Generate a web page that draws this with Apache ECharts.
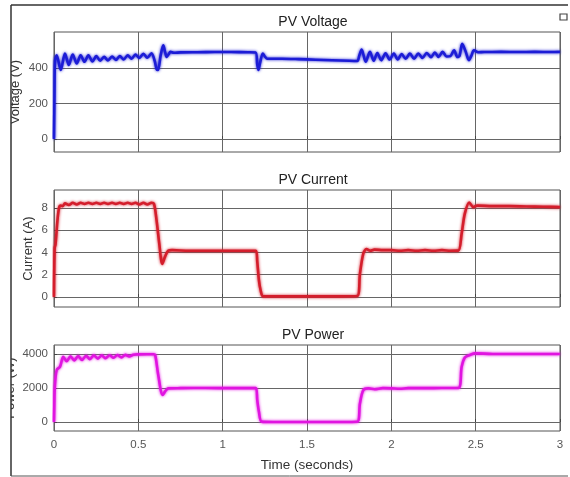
<!DOCTYPE html>
<html>
<head>
<meta charset="utf-8">
<script src="https://cdn.jsdelivr.net/npm/echarts@6/dist/echarts.min.js"></script>
<style>
  html, body { margin: 0; padding: 0; background: #fff; }
  #chart { width: 570px; height: 477px; }
</style>
</head>
<body>
<div id="chart"></div>
<script>
// Panel titles and axis names
const titles = ['PV Voltage', 'PV Current', 'PV Power'];
const yNames = ['Voltage (V)', 'Current (A)', 'Power (W)'];
const xName = 'Time (seconds)';

// Tick values
const xTicks = [0, 0.5, 1, 1.5, 2, 2.5, 3];
const voltageTicks = [0, 200, 400];
const currentTicks = [0, 2, 4, 6, 8];
const powerTicks = [0, 2000, 4000];

// PV voltage trace (s, V)
const voltageTime = [0, 0.003, 0.006, 0.016, 0.04, 0.065, 0.088, 0.111, 0.135, 0.158, 0.181, 0.204, 0.228, 0.251, 0.274, 0.297, 0.32, 0.344, 0.367, 0.39, 0.413, 0.437, 0.46, 0.483, 0.506, 0.53, 0.553, 0.578, 0.597, 0.608, 0.617, 0.632, 0.648, 0.66, 0.668, 0.68, 0.69, 0.71, 0.75, 0.85, 0.95, 1.05, 1.15, 1.195, 1.205, 1.212, 1.222, 1.238, 1.25, 1.265, 1.35, 1.45, 1.55, 1.65, 1.75, 1.798, 1.81, 1.824, 1.848, 1.873, 1.896, 1.917, 1.94, 1.966, 1.99, 2.015, 2.038, 2.061, 2.085, 2.11, 2.135, 2.16, 2.185, 2.21, 2.235, 2.258, 2.28, 2.304, 2.328, 2.35, 2.372, 2.392, 2.405, 2.42, 2.44, 2.46, 2.475, 2.49, 2.515, 2.55, 2.65, 2.75, 2.85, 2.95, 3.0];
const voltageValue = [0, 250, 440, 472, 389, 482, 417, 476, 426, 472, 435, 472, 437, 467, 441, 463, 443, 465, 446, 468, 448, 472, 452, 476, 457, 480, 458, 483, 440, 395, 389, 470, 528, 485, 463, 478, 491, 486, 488, 489, 490, 490, 489, 488, 420, 389, 430, 482, 465, 452, 452, 450, 447, 444, 441, 440, 470, 504, 435, 491, 441, 485, 444, 483, 448, 482, 448, 479, 452, 482, 452, 482, 457, 485, 461, 487, 463, 491, 465, 467, 500, 462, 470, 537, 495, 444, 470, 500, 489, 490, 491, 490, 491, 490, 491];

// PV current trace (s, A)
const currentTime = [0, 0.004, 0.009, 0.02, 0.03, 0.04, 0.052, 0.065, 0.088, 0.111, 0.135, 0.158, 0.181, 0.204, 0.228, 0.251, 0.274, 0.297, 0.32, 0.344, 0.367, 0.39, 0.413, 0.437, 0.46, 0.483, 0.506, 0.53, 0.553, 0.578, 0.593, 0.608, 0.624, 0.642, 0.658, 0.678, 0.7, 0.8, 0.9, 1.0, 1.1, 1.197, 1.205, 1.215, 1.225, 1.24, 1.3, 1.5, 1.7, 1.798, 1.814, 1.834, 1.853, 1.875, 1.9, 1.95, 2.0, 2.05, 2.1, 2.15, 2.2, 2.25, 2.3, 2.35, 2.397, 2.417, 2.436, 2.462, 2.486, 2.509, 2.6, 2.7, 2.8, 2.9, 3.0];
const currentValue = [0, 4.4, 4.7, 6.8, 8.0, 8.2, 8.15, 8.4, 8.25, 8.45, 8.3, 8.45, 8.35, 8.45, 8.35, 8.45, 8.35, 8.45, 8.35, 8.45, 8.35, 8.45, 8.35, 8.45, 8.35, 8.45, 8.3, 8.45, 8.3, 8.45, 8.35, 6.9, 4.8, 2.97, 3.6, 4.16, 4.2, 4.15, 4.15, 4.15, 4.15, 4.15, 3.2, 1.5, 0.6, 0.05, 0.05, 0.05, 0.05, 0.08, 2.1, 3.9, 4.3, 4.15, 4.25, 4.2, 4.2, 4.15, 4.2, 4.15, 4.2, 4.15, 4.2, 4.15, 4.16, 5.7, 7.5, 8.48, 8.06, 8.2, 8.15, 8.15, 8.12, 8.1, 8.06];

// PV power trace (s, W)
const powerTime = [0, 0.002, 0.005, 0.016, 0.036, 0.055, 0.075, 0.098, 0.12, 0.143, 0.166, 0.19, 0.213, 0.236, 0.26, 0.283, 0.306, 0.33, 0.353, 0.376, 0.4, 0.423, 0.446, 0.47, 0.5, 0.55, 0.59, 0.6, 0.618, 0.644, 0.662, 0.678, 0.75, 0.9, 1.05, 1.197, 1.205, 1.215, 1.231, 1.3, 1.5, 1.7, 1.798, 1.814, 1.834, 1.864, 1.9, 1.95, 2.0, 2.05, 2.1, 2.2, 2.3, 2.397, 2.417, 2.436, 2.466, 2.496, 2.6, 2.8, 3.0];
const powerValue = [0, 1000, 2080, 3060, 3255, 3843, 3580, 3860, 3620, 3880, 3650, 3900, 3700, 3920, 3730, 3920, 3750, 3930, 3780, 3940, 3800, 3950, 3850, 3960, 3980, 3990, 3990, 3950, 2765, 1590, 1840, 1980, 1990, 2000, 1990, 1990, 1300, 600, 20, 0, 0, 0, 10, 1100, 1880, 1980, 1930, 1990, 1980, 1960, 1990, 1990, 2000, 2000, 3250, 3800, 3940, 4040, 4000, 4000, 4000];

function pairs(ts, vs) {
  return ts.map((t, i) => [t, vs[i]]);
}

const chart = echarts.init(document.getElementById('chart'), null, { renderer: 'canvas' });

const grids = [
  { left: 54, right: 10, top: 32, height: 120 },
  { left: 54, right: 10, top: 190, height: 117 },
  { left: 54, right: 10, top: 345, height: 86 }
];
const yRanges = [[-73, 603], [-0.9, 9.6], [-530, 4530]];
const yTickSets = [voltageTicks, currentTicks, powerTicks];
const nameGaps = [32, 19, 37];
const colors = ['#1c1cd6', '#d41e2c', '#e014e0'];
const seriesData = [
  pairs(voltageTime, voltageValue),
  pairs(currentTime, currentValue),
  pairs(powerTime, powerValue)
];
const titleTops = [10, 168, 323];

const gridLine = { show: true, lineStyle: { color: '#666', width: 1 } };
const fontFamily = 'Liberation Sans, Arial';

const option = {
  animation: false,
  backgroundColor: '#fff',
  title: titles.map((t, i) => ({
    text: t,
    left: 308,
    top: titleTops[i],
    textAlign: 'center',
    textStyle: { fontFamily, fontSize: 14, fontWeight: 'normal', color: '#222' }
  })),
  grid: grids.map(g => Object.assign({
    show: true, borderColor: '#555', borderWidth: 1, backgroundColor: '#fff',
    containLabel: false, outerBoundsMode: 'none'
  }, g)),
  xAxis: grids.map((g, i) => ({
    type: 'value',
    gridIndex: i,
    min: 0,
    max: 3,
    interval: 0.5,
    name: i === 2 ? xName : '',
    nameLocation: 'middle',
    nameGap: 27,
    nameMoveOverlap: false,
    nameTextStyle: { fontFamily, fontSize: 13.5, color: '#333' },
    axisLine: { show: false },
    axisTick: { show: true, inside: true, length: 3, lineStyle: { color: '#444' } },
    axisLabel: {
      show: i === 2,
      fontFamily,
      fontSize: 11.5,
      color: '#555',
      margin: 8,
      formatter: v => String(v)
    },
    splitLine: gridLine
  })),
  yAxis: grids.map((g, i) => ({
    type: 'value',
    gridIndex: i,
    min: yRanges[i][0],
    max: yRanges[i][1],
    name: yNames[i],
    nameLocation: 'middle',
    nameRotate: 90,
    nameGap: nameGaps[i],
    nameMoveOverlap: false,
    nameTextStyle: { fontFamily, fontSize: 13, color: '#333' },
    axisLine: { show: false },
    axisTick: { show: true, inside: true, length: 3, customValues: yTickSets[i], lineStyle: { color: '#444' } },
    axisLabel: {
      customValues: yTickSets[i],
      fontFamily,
      fontSize: 11.5,
      color: '#555',
      margin: 6,
      formatter: v => String(v)
    },
    splitLine: gridLine
  })),
  series: seriesData.map((d, i) => ({
    type: 'line',
    xAxisIndex: i,
    yAxisIndex: i,
    data: d,
    showSymbol: false,
    smooth: 0.3,
    lineStyle: { color: colors[i], width: 2.6, shadowColor: colors[i], shadowBlur: 3 },
    z: 3
  })),
  graphic: [
    // mask the left margin so the power axis name is cut at the frame
    { type: 'rect', z: 100, shape: { x: 0, y: 0, width: 11, height: 477 }, style: { fill: '#fff' } },
    // outer figure frame
    { type: 'line', z: 101, shape: { x1: 11, y1: 5, x2: 568, y2: 5 }, style: { stroke: '#333', lineWidth: 1.5 } },
    { type: 'line', z: 101, shape: { x1: 11, y1: 5, x2: 11, y2: 476 }, style: { stroke: '#333', lineWidth: 1.5 } },
    { type: 'line', z: 101, shape: { x1: 11, y1: 476, x2: 568, y2: 476 }, style: { stroke: '#555', lineWidth: 1 } },
    // small window icon at top right
    { type: 'rect', z: 101, shape: { x: 560, y: 14, width: 7, height: 6 }, style: { fill: '#fff', stroke: '#444', lineWidth: 1.2 } }
  ]
};

chart.setOption(option);
</script>
</body>
</html>
